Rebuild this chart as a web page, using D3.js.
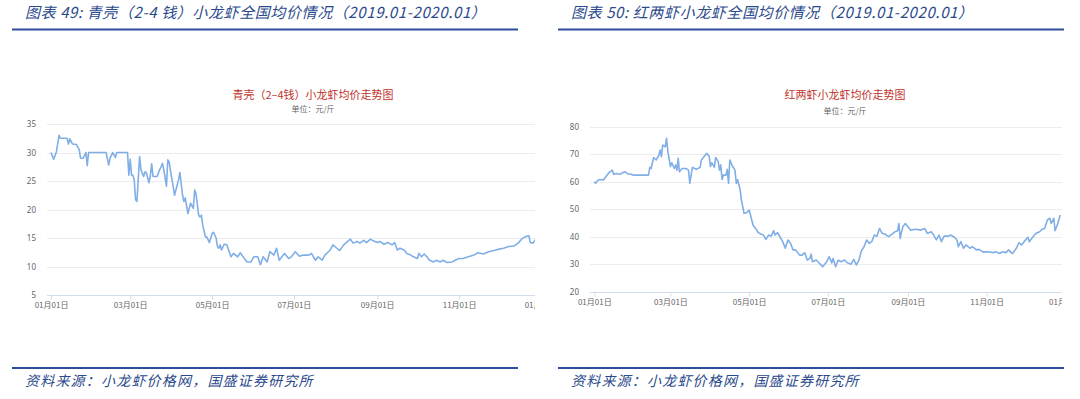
<!DOCTYPE html>
<html>
<head>
<meta charset="utf-8">
<script src="https://cdn.jsdelivr.net/npm/d3@7"></script>
<style>
  body { margin: 0; background: #fff; }
  svg { display: block; }
</style>
</head>
<body>
<svg id="chart" width="1080" height="399"></svg>
<script>

// days since 2019-01-01, price in 元/斤
let qkDays = [0,2,4,6,7,12,13,14,16,19,21,22,24,26,27,28,41,43,44,46,48,49,57,58,59,60,61,62,63,64,66,67,69,70,71,73,74,75,76,79,81,82,83,84,86,87,88,89,91,92,94,95,96,98,99,100,102,103,104,106,107,108,110,111,112,113,115,116,118,120,121,123,124,125,126,127,129,131,134,136,139,141,144,146,149,151,154,156,158,161,163,166,168,170,172,174,177,179,182,185,188,192,194,197,199,202,204,208,210,213,215,218,221,223,225,228,230,233,235,238,240,243,245,248,251,254,256,258,260,263,265,268,270,273,274,276,278,280,282,285,287,290,292,295,299,301,304,307,311,315,318,322,326,330,333,337,341,345,348,351,353,356,357,359,361];
let qkPrice = [30,28.8,30.1,33,32.5,32.5,31.5,32.4,31.5,31.4,30.5,29,29,30,27.7,30,30,27.8,29,30,29.1,30,30,26,28.8,26,26,25.2,21.7,21.4,29.3,27,25.8,26.6,26.5,24.7,26,28,25.8,25.8,27,27.5,28.1,27,24.1,28.7,28.4,26.8,24,22.5,24.3,25.2,26.5,22.5,21.4,22,19.3,20.2,21.1,20.2,23.4,22.8,19,18.7,19,17.3,15.2,15.2,14.2,15.8,16,15,13.5,13.2,13.8,12.9,13.9,13.8,11.7,12.3,11.7,12.4,11.4,10.8,10.8,11.7,11.7,10.3,11.7,10.8,12.6,12,13.2,11.1,11.7,12.3,11.4,11.7,12.6,11.8,12,12,12.3,11.1,11.7,11.1,12,12.9,13.8,13.2,12.8,13.8,14.4,14.8,14.1,14.4,14.1,14.6,14.2,14.8,14.5,14.2,14.4,13.9,14.2,13.8,14.2,12.9,13.2,12.9,12.3,12,11.7,11.4,12.3,11.7,12.2,11.7,11.1,10.8,11.1,10.8,11.1,10.7,10.8,11.1,11.4,11.4,11.7,12,12.4,12.2,12.6,12.8,13,13.2,13.5,13.6,14.1,14.9,15.2,15.4,14.2,14.1,14.8];

let hlDays = [0,1,3,6,7,10,12,14,15,17,20,22,24,26,28,30,42,43,44,46,48,50,51,52,53,55,56,57,59,60,62,63,64,65,66,68,71,73,74,76,79,82,83,86,87,89,90,91,93,94,96,97,98,99,100,102,103,104,105,107,109,110,111,113,114,116,118,120,121,123,125,127,129,131,133,135,137,139,140,142,144,146,148,150,152,154,156,159,161,163,165,167,168,169,172,174,177,180,182,184,185,187,189,191,194,196,199,201,203,205,207,209,211,213,215,217,219,221,223,225,228,231,233,235,236,237,239,241,243,245,249,253,256,258,261,263,265,267,269,271,274,276,279,281,282,284,286,288,291,293,296,298,301,305,309,311,314,316,319,321,323,324,327,329,331,333,336,337,339,342,345,347,349,351,353,354,356,357,359,361];
let hlPrice = [60,59.4,60.6,60.8,60.6,62.4,63.6,64.2,62.7,63,62.7,63.3,63.6,62.8,62.8,62.4,62.4,65.2,64.8,68.8,67.9,69.7,71.5,69.1,73.3,72.7,75.8,70.9,65.5,66.9,64.8,66.1,64.2,68.5,63.6,64.8,64.8,64.2,59.4,65.2,64.5,65.2,67.9,69.7,70.3,69.3,65.5,66.9,65.2,68.8,67.3,64.2,66.1,60.8,62.4,62.4,64.5,59.4,67.9,65.7,64.2,59.4,60.8,57,53.3,48.5,48.7,49.7,47.9,44.2,43,41.5,41,40.6,39,40.6,40.2,42.2,40.6,41.5,39.8,38.2,35.8,38.8,37.6,35.2,35.2,33.3,33.3,34.2,31.5,32.1,33.7,30.9,31.5,30.5,29.1,30.9,32.7,30.5,32.1,29.1,31.5,30.9,31.5,30.5,30,31.8,29.7,31.5,34.9,36.4,38.8,37.6,38.2,40.6,40.2,43,41.2,41,40,41,41.8,42.2,44.8,39.4,43.6,44.8,43.6,42.4,42.7,42.4,43,41.2,41.8,40.6,38.8,40.6,38.2,40.2,40.2,40.6,39.8,38.8,36.4,38.2,35.8,37,35.8,36.4,35.2,35.4,34.5,34.5,34.2,34.5,33.9,34.5,34.2,35.2,34.2,33.9,35.8,37.8,37,38.2,39.8,38.2,39.4,41.2,41.8,42.7,43,46.1,46.7,44.8,46.7,42.2,44.6,47.9];

let monthTicks = ["2019-01-01","2019-03-01","2019-05-01","2019-07-01","2019-09-01","2019-11-01","2020-01-01"];
let monthLabels = ["01月01日","03月01日","05月01日","07月01日","09月01日","11月01日","01月01日"];

let qkTicks = [5,10,15,20,25,30,35];
let hlTicks = [20,30,40,50,60,70,80];

let svg = d3.select("#chart");
let parseDate = d3.timeParse("%Y-%m-%d");
let start = parseDate("2019-01-01");
let tickDates = monthTicks.map(parseDate);

function drawPanel(opt) {
    let g = svg.append("g");

    // report header
    g.append("text")
        .attr("x", opt.left + 13)
        .attr("y", 18)
        .style("font-family", "'Noto Sans CJK SC', sans-serif")
        .style("font-style", "italic")
        .style("font-size", "15px")
        .style("letter-spacing", "0.6px")
        .style("fill", "#2b4a8c")
        .text(opt.header);

    g.append("line")
        .attr("x1", opt.left).attr("x2", opt.left + 506)
        .attr("y1", 29.5).attr("y2", 29.5)
        .style("stroke", "#2d4d9a").style("stroke-width", 2.2);

    g.append("line")
        .attr("x1", opt.left).attr("x2", opt.left + 506)
        .attr("y1", 368).attr("y2", 368)
        .style("stroke", "#2d4d9a").style("stroke-width", 2.2);

    g.append("text")
        .attr("x", opt.left + 13)
        .attr("y", 386)
        .style("font-family", "'Noto Sans CJK SC', sans-serif")
        .style("font-style", "italic")
        .style("font-size", "14px")
        .style("letter-spacing", "1.2px")
        .style("fill", "#2b4a8c")
        .text("资料来源：小龙虾价格网，国盛证券研究所");

    // the screenshot of the web chart is cut at the right edge
    let clipId = "clip" + opt.id;
    svg.append("clipPath").attr("id", clipId)
        .append("rect")
        .attr("x", opt.plotLeft - 40).attr("y", 60)
        .attr("width", opt.cut - opt.plotLeft + 40).attr("height", 270);

    let c = g.append("g").attr("clip-path", `url(#${clipId})`);

    c.append("text")
        .attr("x", opt.titleX).attr("y", 99)
        .attr("text-anchor", "middle")
        .style("font-family", "'Noto Sans CJK SC', sans-serif")
        .style("font-size", "11px")
        .style("fill", "#c0312b")
        .text(opt.title);

    c.append("text")
        .attr("x", opt.titleX).attr("y", opt.unitY)
        .attr("text-anchor", "middle")
        .style("font-family", "'Noto Sans CJK SC', sans-serif")
        .style("font-size", "8px")
        .style("fill", "#666")
        .text("单位：元/斤");

    let x = d3.scaleTime()
        .domain([start, parseDate("2020-01-01")])
        .range([opt.x0, opt.x1]);
    let y = d3.scaleLinear()
        .domain(d3.extent(opt.yTicks))
        .range([opt.yBottom, opt.yTop]);

    // gridlines
    c.selectAll(".grid").data(opt.yTicks.slice(1)).enter().append("line")
        .attr("x1", opt.plotLeft).attr("x2", opt.x1 + 10)
        .attr("y1", d => Math.round(y(d)) + 0.5)
        .attr("y2", d => Math.round(y(d)) + 0.5)
        .style("stroke", "#ececec");

    // x axis
    let xAxis = c.append("g")
        .attr("transform", `translate(0,${Math.round(opt.yBottom) + 0.5})`)
        .call(d3.axisBottom(x).tickValues(tickDates)
            .tickFormat((d, i) => monthLabels[i]).tickSize(4).tickPadding(3));
    xAxis.select(".domain").remove();
    xAxis.append("line")
        .attr("x1", opt.plotLeft).attr("x2", opt.x1 + 10)
        .style("stroke", "#d3dcef");
    xAxis.selectAll(".tick line").style("stroke", "#d3dcef");
    xAxis.selectAll(".tick text")
        .style("font-family", "'Noto Sans CJK SC', sans-serif")
        .style("font-size", "8px")
        .style("fill", "#666");

    // y axis labels only
    let yAxis = c.append("g")
        .attr("transform", `translate(${opt.plotLeft},0)`)
        .call(d3.axisLeft(y).tickValues(opt.yTicks).tickSize(0).tickPadding(opt.yPad));
    yAxis.select(".domain").remove();
    yAxis.selectAll(".tick text")
        .style("font-family", "'Noto Sans', sans-serif")
        .style("font-size", "8px")
        .style("fill", "#666");

    let line = d3.line()
        .x((d, i) => x(d3.timeDay.offset(start, opt.days[i])))
        .y(d => y(d));

    c.append("path")
        .datum(opt.prices)
        .attr("d", line)
        .style("fill", "none")
        .style("stroke", "#80aee6")
        .style("stroke-width", 1.6)
        .style("stroke-linejoin", "round");
}

drawPanel({
    id: "qk", left: 12,
    header: "图表 49:  青壳（2-4 钱）小龙虾全国均价情况（2019.01-2020.01）",
    title: "青壳（2–4钱）小龙虾均价走势图", titleX: 313, unitY: 112,
    plotLeft: 47, x0: 51, x1: 541, cut: 535,
    yTop: 124, yBottom: 295, yPad: 11,
    yTicks: qkTicks, days: qkDays, prices: qkPrice
});

drawPanel({
    id: "hl", left: 558,
    header: "图表 50:  红两虾小龙虾全国均价情况（2019.01-2020.01）",
    title: "红两虾小龙虾均价走势图", titleX: 845, unitY: 114,
    plotLeft: 590, x0: 594.3, x1: 1065.4, cut: 1062,
    yTop: 126.7, yBottom: 291.7, yPad: 11,
    yTicks: hlTicks, days: hlDays, prices: hlPrice
});

</script>
</body>
</html>
